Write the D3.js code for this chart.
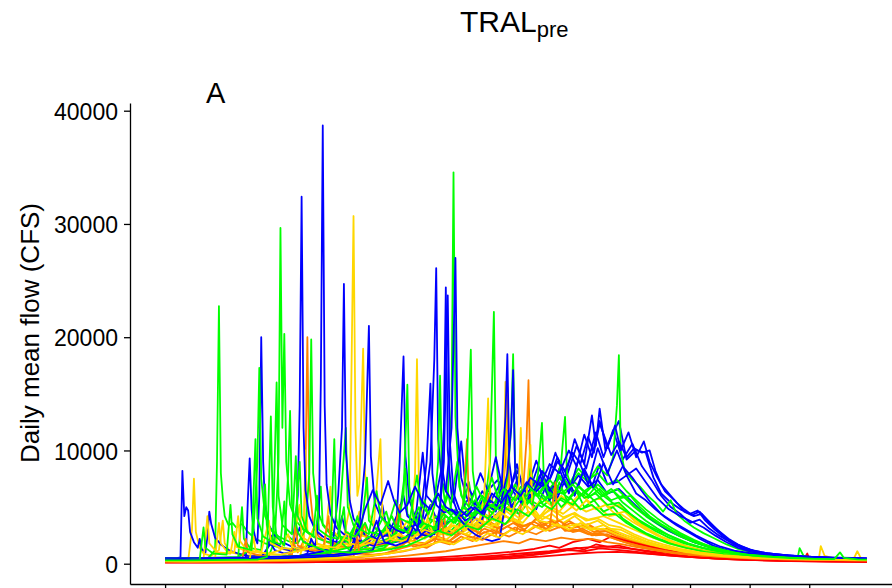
<!DOCTYPE html>
<html><head><meta charset="utf-8">
<script src="https://cdn.jsdelivr.net/npm/d3@7"></script>
<style>
body{margin:0;background:#fff}
svg{display:block}
text{font-family:"Liberation Sans",Arial,Helvetica,sans-serif;fill:#000}
</style>
</head><body>
<svg id="chart" width="892" height="588"></svg>
<script>
// ---- data (day of water year, daily mean flow in CFS) ----
const monthStartDays = [0,31,61,92,123,151,182,212,243,273,304,335];
const yTickValues = [0,10000,20000,30000,40000];
const titleMain = "TRAL";
const titleSub = "pre";
const panelLabel = "A";
const yLabel = "Daily mean flow (CFS)";

const flowB1 = [[0,350],[5,330],[8,600],[9,8200],[10,4200],[11,5000],[12,4700],[13,2800],[15,1900],[17,1400],[18,2200],[19,1300],[21,1000],[22,2400],[23,4600],[24,3500],[26,2300],[29,1700],[33,1200],[38,900],[43,700],[48,650],[52,700],[55,2500],[57,1800],[62,1300],[66,1100],[70,3200],[72,2000],[76,1500],[82,1200],[88,1100],[92,4200],[94,2600],[99,1900],[104,1500],[110,2800],[113,5200],[115,3300],[120,2400],[126,2000],[131,4800],[133,3400],[138,2600],[144,3800],[147,3000],[152,2500],[158,3500],[164,4800],[168,3900],[173,4400],[178,5600],[183,4600],[188,6200],[193,4800],[198,6800],[203,5400],[208,7400],[213,6000],[218,8200],[222,6800],[226,8800],[230,7000],[235,7200],[240,7800],[245,6200],[250,5600],[255,4800],[260,4100],[266,3400],[272,2800],[278,2200],[285,1600],[292,1200],[300,900],[310,700],[320,560],[335,460],[350,400],[365,380]];
const flowB2 = [[0,300],[10,320],[20,340],[30,360],[38,380],[42,450],[43,5500],[44,9300],[45,4800],[46,3000],[47,2200],[48,1800],[49,6000],[50,20000],[51,9000],[52,5200],[54,3400],[57,2500],[61,1900],[66,1500],[72,1200],[78,1000],[84,900],[90,900],[96,1100],[100,3000],[102,2000],[108,1600],[115,1800],[120,2600],[122,9000],[124,18300],[125,9500],[127,5600],[130,4200],[134,3600],[138,5200],[141,4000],[146,3500],[152,4200],[158,5800],[163,5000],[168,6500],[173,7400],[178,6000],[183,8200],[188,6400],[193,9100],[198,7000],[203,9800],[208,7600],[213,11000],[218,8800],[222,13100],[224,10400],[226,13700],[229,10000],[232,11200],[236,12600],[240,9200],[245,10000],[250,9800],[254,7600],[258,6200],[263,5400],[268,4800],[273,4400],[277,4700],[281,3800],[286,3000],[291,2300],[296,1700],[302,1300],[310,950],[320,800],[329,660],[340,560],[352,470],[365,400]];
const flowB3 = [[0,400],[10,380],[20,420],[30,460],[40,500],[50,560],[55,1800],[57,1200],[62,900],[66,1000],[69,6000],[70,14000],[71,32400],[72,12000],[73,6500],[75,4200],[78,3000],[82,2400],[87,2000],[92,1800],[97,2200],[101,3600],[104,2500],[110,2100],[116,2600],[121,4400],[125,3100],[130,2800],[134,4000],[138,9000],[140,18000],[141,26100],[142,11000],[144,7200],[146,6400],[149,12000],[151,27000],[152,12000],[154,7600],[157,5800],[161,5200],[165,6400],[169,5400],[174,7000],[179,5600],[184,7800],[189,6200],[194,8600],[199,7000],[204,9400],[209,7800],[214,10400],[219,8400],[224,11600],[228,9400],[233,11800],[238,9200],[243,10600],[248,8600],[253,7400],[258,6000],[263,5000],[268,4400],[273,3600],[278,3900],[283,3100],[288,2500],[294,1900],[300,1400],[308,1000],[316,800],[326,680],[338,570],[350,500],[365,430]];
const flowB4 = [[0,450],[10,430],[20,450],[30,500],[40,520],[50,560],[60,600],[66,620],[70,700],[74,900],[76,2200],[78,1500],[80,4200],[81,16000],[82,38700],[83,14000],[84,7000],[86,4400],[89,3200],[93,2600],[98,2200],[103,1900],[108,2400],[112,2000],[117,1800],[122,2000],[127,2600],[131,2200],[136,3000],[140,2600],[143,5000],[145,12000],[146,24400],[147,10000],[149,6000],[152,4600],[156,3800],[160,4200],[164,3600],[168,5200],[172,4600],[175,6800],[177,13000],[178,18500],[179,9000],[181,6400],[185,5400],[190,6600],[195,7800],[200,5600],[205,8400],[210,6200],[215,9200],[220,7000],[225,10200],[230,8000],[235,10000],[240,7800],[245,8400],[250,7200],[256,5800],[262,4800],[268,4200],[274,3700],[280,3200],[286,2500],[292,1900],[298,1400],[305,1050],[315,800],[328,650],[345,520],[365,450]];
const flowB5 = [[0,380],[10,360],[20,380],[30,420],[40,450],[50,500],[58,540],[64,600],[70,700],[76,900],[82,1100],[87,1500],[90,6000],[92,12000],[93,24700],[94,10000],[96,5600],[98,4000],[101,3200],[104,9000],[106,21000],[107,9500],[109,5400],[112,4200],[116,3500],[120,3000],[124,2700],[128,3400],[131,2800],[134,5800],[136,9000],[138,15900],[139,8000],[141,5200],[145,4500],[149,4800],[154,4200],[159,5000],[164,4400],[169,5600],[174,4900],[178,8000],[180,12000],[181,17100],[182,8500],[184,6000],[188,5600],[193,6400],[198,7200],[203,5800],[208,7800],[213,6200],[218,8400],[223,6600],[228,8900],[233,7000],[238,8600],[243,7600],[248,6400],[253,5300],[258,4400],[264,3700],[270,3100],[276,2500],[282,2000],[289,1500],[296,1150],[305,900],[315,720],[328,580],[345,470],[365,400]];
const flowB6 = [[0,350],[15,340],[30,380],[45,420],[60,480],[75,560],[90,700],[100,900],[108,1200],[112,2800],[114,1900],[120,1600],[126,2000],[130,3600],[133,2600],[138,2400],[142,3000],[145,9000],[147,23700],[148,11000],[150,6200],[153,4800],[157,4200],[161,5000],[165,4400],[170,6200],[175,5400],[180,6800],[185,6000],[190,7600],[195,6900],[200,8800],[205,8000],[210,10000],[214,8600],[218,11400],[222,9400],[226,12600],[230,10200],[234,12200],[237,10000],[241,11600],[245,9400],[249,10800],[252,9000],[256,7600],[260,6400],[265,5600],[270,4600],[275,4200],[279,4400],[283,3600],[288,2900],[293,2200],[298,1700],[304,1250],[312,950],[322,760],[335,610],[348,520],[358,460],[365,420]];
const flowB7 = [[0,500],[15,480],[30,520],[45,560],[60,620],[75,700],[88,800],[96,1000],[100,2400],[104,4800],[108,6500],[112,5200],[116,7300],[119,5600],[122,4500],[126,5200],[130,6800],[134,5400],[138,4800],[142,6200],[146,5000],[150,4600],[154,3800],[158,3000],[162,2500],[166,2200],[170,2000],[174,2200],[178,6400],[180,5000],[184,6000],[188,7200],[192,6400],[196,8200],[200,7400],[204,9000],[208,8200],[212,9800],[216,8800],[220,11200],[223,9800],[226,12400],[229,11000],[232,9600],[236,10800],[240,9400],[244,10200],[248,9800],[252,10000],[255,8200],[258,7000],[262,6200],[266,5400],[270,4800],[274,4300],[278,4600],[282,3900],[286,3200],[290,2500],[295,1900],[300,1500],[306,1150],[314,900],[324,740],[336,620],[350,540],[365,500]];
const flowB8 = [[0,450],[20,440],[40,480],[60,560],[80,700],[95,900],[105,1400],[110,3800],[112,2600],[118,2400],[124,6000],[126,4200],[130,3600],[134,9800],[136,6000],[140,5200],[144,8600],[146,6400],[150,5400],[154,10800],[156,7200],[160,6000],[164,8000],[168,6400],[172,9400],[175,7000],[179,6200],[183,8800],[186,6600],[190,6000],[195,7200],[200,6400],[205,7600],[210,6600],[215,7800],[220,6800],[225,7400],[230,6200],[236,6600],[242,5600],[248,4600],[254,3800],[260,3100],[267,2500],[275,1900],[284,1450],[294,1100],[306,820],[320,640],[336,540],[352,480],[365,450]];

const flowG1 = [[0,300],[8,320],[16,360],[22,420],[26,1200],[27,9000],[28,22750],[29,8000],[30,5800],[31,4200],[33,3400],[35,3600],[37,3200],[40,3500],[43,2800],[47,2200],[52,1800],[58,1500],[64,1300],[70,1200],[76,1800],[79,1400],[85,1200],[91,1500],[96,2600],[99,1900],[105,1600],[111,2200],[116,3400],[119,2500],[125,2100],[131,2800],[136,2400],[142,3200],[148,2800],[154,3800],[160,3200],[166,4400],[172,3800],[178,5000],[184,4400],[190,5600],[196,5000],[202,6000],[208,5400],[214,6400],[220,5800],[226,6600],[232,5600],[238,6000],[244,5000],[250,4200],[256,3500],[262,2900],[268,2400],[275,1900],[282,1500],[290,1100],[300,800],[312,600],[325,480],[340,400],[355,360],[365,340]];
const flowG2 = [[0,400],[10,380],[20,400],[30,430],[40,480],[48,520],[54,700],[57,2000],[59,9000],[60,29650],[61,12000],[62,20300],[63,9000],[65,5200],[68,3800],[72,3000],[77,2400],[83,2000],[89,1800],[95,2200],[100,3800],[103,2600],[108,2200],[114,3000],[118,2400],[124,2800],[130,4200],[134,3200],[139,3000],[144,4400],[147,6000],[149,14000],[150,34560],[151,13000],[153,6800],[156,5000],[160,4400],[165,5400],[170,4800],[175,6200],[180,5400],[185,6800],[190,6000],[195,7400],[200,6600],[205,7800],[210,7000],[215,8400],[220,7400],[225,8000],[230,7000],[235,7400],[240,6400],[245,5600],[250,4800],[256,4000],[262,3300],[268,2700],[275,2100],[282,1600],[290,1200],[300,900],[312,680],[326,540],[342,450],[365,400]];
const flowG3 = [[0,500],[10,480],[20,520],[30,560],[38,600],[44,1200],[46,3000],[48,9000],[49,17300],[50,7500],[52,4200],[55,3000],[59,2400],[64,2000],[69,1800],[73,3000],[75,8000],[76,19800],[77,8000],[79,4800],[82,3500],[86,2800],[91,2400],[96,2200],[101,2600],[106,2300],[111,3000],[116,2600],[121,3400],[126,2900],[131,3800],[136,3200],[141,4200],[146,3600],[151,4800],[156,4000],[161,5600],[166,4800],[169,9000],[171,22240],[172,9500],[174,6200],[178,5400],[183,6000],[188,5200],[193,6600],[198,5800],[203,7000],[208,6200],[213,7200],[218,6400],[223,7000],[228,6000],[233,6400],[238,5400],[244,4600],[250,3800],[256,3100],[262,2500],[268,2000],[275,1600],[283,1250],[292,950],[302,720],[315,560],[330,460],[348,400],[365,370]];
const flowG4 = [[0,250],[12,260],[24,280],[36,300],[48,340],[60,400],[70,480],[80,600],[90,800],[98,1000],[104,1600],[108,1200],[114,1400],[120,2600],[124,6000],[126,15800],[127,6800],[129,4200],[132,3300],[136,3000],[140,5000],[142,9000],[143,16600],[144,7500],[146,4800],[150,4000],[155,4600],[160,4000],[165,5200],[170,4500],[175,5800],[180,5000],[185,6400],[190,5600],[195,7000],[200,6200],[205,7600],[210,6800],[215,8000],[220,7200],[225,8600],[230,7800],[233,9400],[235,14000],[236,18420],[237,10000],[239,8200],[243,7400],[247,6800],[251,6000],[255,5400],[259,4600],[263,5600],[266,4400],[270,3800],[275,3200],[280,2700],[286,2200],[292,1700],[298,1300],[306,950],[316,720],[328,560],[340,470],[352,410],[365,380]];
const flowG5 = [[0,450],[12,430],[24,460],[36,500],[48,560],[60,640],[70,720],[80,900],[90,1200],[100,1600],[106,2400],[110,1900],[116,2200],[122,3000],[128,2600],[134,3600],[140,3000],[146,4200],[151,3600],[155,5000],[157,9000],[159,18900],[160,8200],[162,5400],[165,4600],[170,5200],[175,4600],[178,7500],[180,12000],[181,18500],[182,8600],[184,6000],[188,5400],[193,6200],[198,5600],[203,6800],[206,9000],[208,12970],[209,8000],[212,6400],[217,6000],[222,6800],[227,6000],[232,6600],[237,5800],[242,6000],[247,5000],[252,4200],[258,3500],[264,2900],[270,2400],[277,1900],[284,1500],[292,1150],[302,880],[314,660],[328,520],[345,440],[365,390]];
const flowG6 = [[0,350],[12,340],[24,360],[36,380],[48,420],[60,480],[72,560],[84,700],[86,900],[88,11000],[89,4000],[92,1800],[96,1200],[106,1300],[114,1600],[122,2100],[130,2700],[137,3400],[143,2900],[150,4000],[156,3500],[162,4600],[168,4000],[174,5200],[180,4600],[186,6000],[191,5200],[194,8000],[196,12440],[197,7400],[200,5800],[205,6400],[210,5800],[215,6800],[220,6000],[225,7000],[230,6200],[235,6600],[240,5800],[245,5000],[250,4300],[256,3600],[262,3000],[268,2400],[275,1900],[282,1500],[290,1150],[300,850],[312,640],[325,500],[329,540],[330,1370],[332,700],[338,450],[350,390],[365,360]];
const flowG7 = [[0,300],[12,290],[24,310],[36,330],[48,360],[53,600],[55,13000],[56,5000],[58,2400],[62,1600],[64,8000],[65,13500],[66,5200],[69,2800],[72,1900],[84,1100],[96,1000],[108,1100],[118,1300],[126,1600],[134,2200],[142,2900],[149,2500],[156,3400],[163,3000],[170,4000],[177,3500],[183,4800],[189,4200],[195,5400],[201,4800],[206,5800],[212,5200],[218,6400],[223,5600],[228,6000],[234,5200],[240,4600],[246,3900],[252,3300],[258,2800],[265,2300],[272,1800],[280,1400],[290,1050],[300,800],[312,620],[325,500],[338,430],[348,400],[351,1000],[353,520],[360,380],[365,360]];
const flowG8 = [[0,400],[15,420],[30,450],[38,500],[40,5000],[41,2200],[44,1400],[50,1200],[52,7000],[53,3000],[56,2000],[60,1700],[62,5500],[63,2600],[67,2000],[70,9000],[71,4200],[74,2800],[78,2300],[81,6800],[82,3400],[86,2600],[90,2400],[94,12000],[95,5000],[98,3400],[102,2900],[105,7600],[106,3800],[110,3000],[115,4600],[117,3400],[121,3000],[125,8400],[126,4400],[130,3500],[135,5600],[137,4000],[142,3600],[147,6400],[149,4600],[153,4000],[158,7200],[160,5200],[164,4600],[168,6800],[171,5000],[175,7400],[178,5800],[182,6600],[186,5200],[190,8400],[193,6000],[197,6800],[201,5200],[205,7200],[209,5600],[214,6400],[218,5000],[223,5600],[228,4600],[233,5000],[238,4000],[244,3300],[250,2700],[257,2200],[264,1800],[272,1400],[281,1100],[292,850],[305,650],[320,520],[340,440],[365,400]];
const flowG9 = [[0,350],[10,340],[18,380],[20,3200],[21,1400],[25,900],[32,800],[34,5200],[35,2600],[38,1500],[45,1200],[47,11000],[48,4000],[51,2400],[56,1900],[58,16000],[59,6000],[61,3400],[66,2600],[68,9500],[69,4200],[72,3000],[77,2500],[79,6000],[80,3000],[85,2400],[90,2200],[93,5000],[94,2800],[99,2400],[104,3600],[106,2800],[112,2600],[118,4200],[120,3200],[126,2800],[132,5000],[134,3600],[140,3200],[145,4400],[150,3600],[155,5000],[160,4200],[165,6000],[170,5000],[176,6600],[182,5600],[188,7000],[194,6000],[200,7400],[206,6200],[212,7000],[218,5800],[224,6200],[230,5200],[236,5400],[242,4400],[248,3600],[255,2900],[262,2300],[270,1800],[279,1400],[290,1050],[302,800],[316,620],[332,500],[350,430],[365,390]];
const flowG10 = [[0,380],[20,370],[40,420],[60,520],[75,700],[85,1000],[92,2200],[96,1800],[100,4200],[102,3000],[106,2600],[110,6400],[112,4200],[116,3400],[120,5600],[122,4000],[127,3600],[131,7800],[133,5200],[137,4400],[141,6200],[144,5000],[148,4400],[152,9000],[154,6000],[158,5000],[162,6800],[166,5400],[170,7600],[173,5800],[177,5200],[182,7000],[186,5600],[191,6600],[196,5400],[201,6200],[206,5000],[211,5800],[216,4800],[222,5200],[228,4300],[234,4400],[240,3600],[247,2900],[254,2300],[262,1800],[271,1400],[281,1050],[293,800],[307,620],[322,500],[340,430],[365,390]];

const flowY1 = [[0,200],[8,220],[12,300],[14,3000],[15,7500],[16,2800],[18,1400],[20,900],[24,700],[28,1200],[30,3800],[31,1800],[34,1000],[40,800],[46,700],[52,900],[57,2800],[59,1400],[65,1100],[72,1500],[78,1200],[85,1600],[92,1400],[100,1800],[108,1600],[116,2200],[124,2000],[132,2600],[140,2300],[148,3000],[156,2600],[164,3400],[172,3000],[180,3800],[188,3300],[196,4200],[204,3700],[212,4400],[220,3900],[228,4200],[236,3600],[244,3000],[252,2400],[260,1900],[268,1500],[278,1100],[290,800],[305,600],[320,470],[335,400],[340,420],[341,1550],[343,700],[350,380],[365,350]];
const flowY2 = [[0,300],[12,290],[24,320],[36,350],[48,400],[60,460],[70,600],[72,1800],[73,10000],[74,3000],[78,1400],[84,1600],[87,1200],[92,1400],[96,5000],[98,30700],[99,12000],[100,6000],[101,7000],[103,19000],[104,8000],[106,4400],[109,3200],[113,2600],[118,2200],[124,2000],[130,2600],[135,2200],[141,3000],[147,2500],[153,3400],[159,2900],[165,3800],[171,3200],[177,4200],[183,3600],[189,4600],[195,4000],[201,5000],[207,4400],[213,5200],[219,4600],[225,5000],[231,4200],[237,4400],[243,3700],[249,3100],[256,2500],[263,2000],[270,1600],[278,1250],[288,950],[300,720],[314,560],[330,460],[348,400],[365,370]];
const flowY3 = [[0,250],[12,240],[24,260],[36,280],[48,320],[60,380],[72,460],[84,600],[96,800],[106,1000],[114,1300],[120,2400],[123,1600],[128,2200],[130,8000],[131,18060],[132,7000],[134,4000],[137,3000],[141,2600],[146,3200],[151,2700],[156,3800],[161,3200],[166,4400],[171,3800],[176,4800],[181,4200],[186,5400],[191,4700],[196,5800],[201,5100],[206,6000],[211,5300],[216,6200],[221,5400],[226,5800],[231,5000],[236,5200],[241,4400],[246,3700],[252,3000],[258,2400],[265,1900],[272,1500],[280,1150],[290,880],[302,680],[316,540],[332,450],[350,390],[358,380],[360,1100],[362,450],[365,360]];
const flowY4 = [[0,350],[12,330],[24,360],[36,400],[48,460],[60,540],[72,640],[84,800],[96,1000],[106,1400],[112,1100],[120,1600],[128,2000],[134,1700],[140,2400],[146,2100],[152,2900],[158,2500],[163,3400],[166,6000],[168,14600],[169,6500],[171,4200],[174,3600],[176,6000],[177,16060],[178,7000],[180,4600],[184,4000],[189,4600],[194,4000],[199,5000],[204,4400],[209,5400],[214,4700],[219,5600],[224,4800],[229,5200],[234,4400],[239,4600],[244,3800],[250,3100],[256,2500],[262,2000],[270,1550],[278,1200],[288,900],[300,680],[314,530],[330,440],[348,380],[365,350]];
const flowY5 = [[0,280],[10,270],[20,300],[26,500],[28,3600],[29,1800],[32,1100],[36,1000],[38,4200],[39,2000],[42,1300],[48,1000],[54,900],[60,1200],[64,2600],[66,1500],[72,1200],[79,1500],[86,1300],[93,1800],[100,1500],[107,2200],[114,1900],[121,2600],[128,2200],[135,3000],[142,2600],[149,3400],[156,2900],[163,3800],[170,3300],[177,4200],[184,3600],[188,6000],[190,10500],[191,5000],[194,3800],[200,3600],[207,3200],[214,3500],[221,3000],[228,3100],[235,2600],[242,2200],[250,1800],[258,1450],[267,1150],[277,900],[290,700],[305,540],[322,440],[340,380],[365,340]];
const flowY6 = [[0,220],[12,210],[24,230],[36,250],[48,280],[60,320],[72,380],[84,460],[96,560],[106,700],[116,900],[126,1200],[136,1600],[144,2000],[150,1700],[156,2300],[162,2000],[168,2700],[174,2300],[180,3000],[186,2600],[192,3300],[198,2900],[204,3500],[210,3000],[216,3600],[222,3100],[228,3400],[234,2900],[240,2500],[247,2100],[254,1700],[262,1350],[270,1050],[280,800],[292,620],[306,500],[322,420],[340,360],[365,320]];
const flowY7 = [[0,300],[10,320],[20,400],[22,4200],[23,1800],[27,1000],[34,900],[36,2800],[37,1500],[42,1100],[50,1000],[54,3800],[55,1800],[60,1400],[66,1300],[70,5200],[71,2400],[76,1800],[83,1600],[86,6800],[87,3000],[91,2200],[97,2000],[101,4600],[102,2500],[108,2200],[112,11000],[113,4200],[116,2800],[121,2500],[126,3800],[128,2800],[134,2600],[139,5400],[140,3200],[146,2900],[152,4200],[154,3200],[160,3000],[166,4600],[168,3600],[173,3300],[179,5200],[181,4000],[186,3600],[192,4800],[196,3900],[201,4400],[207,3600],[213,4200],[219,3400],[225,3800],[231,3100],[237,3000],[243,2500],[250,2000],[258,1600],[267,1250],[277,950],[290,720],[305,560],[322,450],[342,390],[365,350]];
const flowY8 = [[0,260],[12,250],[24,280],[36,320],[44,380],[46,2400],[47,1200],[52,900],[60,800],[66,1000],[72,1200],[78,3400],[79,1800],[84,1500],[90,1400],[95,2800],[96,1800],[102,1600],[110,2000],[116,3000],[117,2200],[123,2000],[130,2400],[137,3800],[139,2800],[144,2600],[150,3400],[156,3000],[162,4000],[168,3500],[174,4600],[180,3900],[184,7000],[185,12000],[186,6000],[189,4500],[195,4200],[201,4800],[207,4100],[213,4500],[219,3800],[225,4000],[231,3400],[237,3200],[244,2600],[251,2100],[259,1700],[268,1300],[278,1000],[290,760],[305,580],[322,460],[342,390],[365,350]];

const flowO1 = [[0,260],[12,250],[24,270],[36,300],[48,340],[58,400],[64,600],[67,1800],[69,1000],[72,2000],[73,8000],[74,20000],[75,7000],[77,3600],[80,2400],[84,1900],[89,1600],[95,1800],[101,1500],[108,2200],[114,1800],[120,2600],[126,2200],[132,3000],[138,2500],[144,3400],[150,2800],[156,3600],[162,3000],[168,3800],[174,3200],[180,3900],[186,3300],[192,3700],[198,3100],[204,3400],[210,2900],[216,3000],[222,2500],[228,2600],[234,2200],[241,1800],[248,1450],[256,1150],[265,900],[276,700],[290,540],[306,430],[322,360],[340,310],[365,280]];
const flowO2 = [[0,220],[12,210],[24,230],[36,250],[48,280],[60,320],[72,380],[84,460],[96,560],[106,700],[114,900],[122,1300],[130,1700],[136,1400],[142,2000],[148,1700],[154,2400],[160,2000],[166,2800],[172,2400],[175,5000],[177,9000],[178,15600],[179,6000],[181,3800],[185,3200],[190,3600],[195,3100],[200,3700],[205,3200],[210,3800],[215,3300],[220,3500],[225,3000],[230,3100],[236,2600],[242,2200],[249,1800],[256,1450],[264,1150],[274,880],[286,680],[300,540],[316,440],[334,370],[352,330],[365,310]];
const flowO3 = [[0,300],[12,280],[24,300],[36,320],[48,360],[60,420],[72,500],[84,620],[96,780],[106,1000],[116,1300],[124,1700],[128,3200],[130,1900],[136,1800],[142,2400],[148,2000],[154,2700],[160,2300],[166,3100],[172,2700],[178,3300],[183,2900],[186,6000],[188,11000],[189,16200],[190,7000],[192,4200],[196,3400],[201,3800],[206,3200],[211,3600],[216,3100],[221,3300],[226,2800],[231,2900],[237,2400],[243,2000],[250,1650],[258,1300],[267,1000],[278,780],[292,600],[308,480],[326,400],[345,340],[365,300]];
const flowO4 = [[0,200],[15,190],[30,210],[45,240],[60,280],[72,340],[84,420],[96,520],[106,650],[114,850],[120,1200],[126,2000],[129,1500],[135,1700],[141,2200],[147,1900],[152,2600],[155,5000],[157,11000],[158,5200],[160,3000],[164,2600],[170,3000],[176,2600],[182,3200],[188,2800],[194,3400],[200,2900],[206,3300],[212,2800],[218,3000],[224,2500],[230,2600],[236,2200],[243,1800],[250,1500],[258,1200],[268,940],[280,730],[294,580],[310,470],[328,390],[346,340],[365,300]];
const flowO5 = [[0,180],[15,170],[30,180],[45,200],[60,230],[75,270],[90,330],[104,420],[116,560],[126,720],[136,900],[146,1100],[156,1400],[166,1700],[176,2000],[184,1800],[190,2200],[198,2000],[206,2300],[214,2100],[222,2200],[230,1900],[238,1700],[246,1450],[255,1200],[265,950],[276,760],[290,600],[305,480],[322,390],[340,330],[365,280]];
const flowO6 = [[0,250],[15,240],[30,270],[40,300],[42,2200],[43,1000],[50,700],[60,600],[66,800],[68,3400],[69,1600],[75,1200],[82,1100],[85,4200],[86,2000],[92,1500],[100,1400],[104,3600],[105,1900],[111,1600],[118,1800],[122,5200],[123,2400],[129,2000],[135,2600],[141,2200],[145,4800],[146,2800],[152,2500],[158,3200],[164,2700],[168,6200],[169,3400],[175,3000],[181,3600],[187,3000],[193,4000],[199,3300],[205,3800],[211,3100],[217,3400],[223,2800],[229,2900],[235,2400],[242,2000],[249,1650],[257,1300],[266,1020],[277,800],[290,620],[305,490],[322,400],[342,340],[365,300]];
const flowO7 = [[0,200],[15,190],[30,200],[45,220],[60,260],[75,320],[88,420],[98,600],[100,2400],[101,900],[108,800],[116,900],[124,1100],[132,1400],[140,1800],[144,3800],[145,2000],[151,1900],[158,2400],[165,2100],[172,2800],[179,2400],[186,3000],[193,2600],[200,3200],[203,7200],[204,3600],[208,2900],[214,3000],[220,2600],[226,2700],[232,2300],[239,1900],[246,1600],[254,1300],[263,1050],[273,820],[285,640],[300,500],[318,400],[338,340],[365,290]];

const flowR1 = [[0,150],[20,140],[40,150],[60,170],[80,200],[100,240],[120,300],[140,400],[155,520],[170,700],[185,900],[200,1100],[210,1300],[220,1450],[230,1500],[240,1350],[250,1150],[260,950],[272,750],[285,560],[300,420],[320,320],[340,260],[365,220]];
const flowR2 = [[0,120],[20,110],[40,120],[60,130],[80,150],[100,180],[120,220],[140,280],[160,380],[175,520],[188,700],[198,900],[206,1100],[214,1400],[218,1250],[224,1700],[230,1500],[236,1600],[242,1350],[250,1100],[260,850],[272,620],[286,450],[302,330],[320,250],[340,200],[365,170]];
const flowR3 = [[0,100],[20,100],[40,110],[60,120],[80,140],[100,170],[120,210],[140,270],[160,350],[180,470],[195,620],[205,760],[215,900],[225,1000],[235,1050],[245,950],[255,820],[266,680],[278,540],[292,410],[308,310],[325,240],[345,190],[365,160]];
const flowR4 = [[0,200],[20,190],[40,200],[60,220],[80,260],[100,320],[120,400],[135,500],[150,640],[165,820],[180,1050],[192,1300],[200,1600],[205,1400],[212,1900],[220,2200],[226,1900],[232,2400],[238,2100],[245,1800],[252,1500],[260,1200],[270,900],[282,680],[296,500],[312,380],[326,300],[332,320],[334,900],[335,400],[345,250],[365,210]];
const flowR5 = [[0,160],[25,150],[50,160],[75,190],[100,230],[120,280],[140,360],[160,480],[178,650],[192,860],[202,1050],[210,1200],[218,1100],[226,1350],[234,1250],[242,1100],[252,900],[263,720],[276,560],[290,430],[308,320],[328,250],[348,200],[365,180]];

const typeColors = {blue:"#0000ff", green:"#00ff00", yellow:"#ffd700", orange:"#ff8000", red:"#ff0000"};
// plotting order (year order), each with its flow-type class
const yearOrder = [
  ["red",flowR1],["yellow",flowY1],["green",flowG1],["blue",flowB1],["orange",flowO1],
  ["yellow",flowY2],["green",flowG2],["red",flowR2],["blue",flowB2],["orange",flowO2],
  ["green",flowG3],["yellow",flowY3],["blue",flowB3],["red",flowR3],["orange",flowO3],
  ["green",flowG8],["yellow",flowY7],["blue",flowB8],["orange",flowO6],["red",flowR5],
  ["green",flowG4],["yellow",flowY4],["blue",flowB4],["orange",flowO4],["green",flowG5],
  ["blue",flowB5],["yellow",flowY5],["red",flowR4],["green",flowG6],["orange",flowO5],
  ["green",flowG10],["blue",flowB7],["yellow",flowY8],["green",flowG9],["orange",flowO7],
  ["blue",flowB6],["yellow",flowY6],["green",flowG7]
];

// ---- drawing ----
const svg = d3.select("#chart");
const x = d3.scaleLinear().domain([-18.25, 383.25]).range([130, 902]);
const y = d3.scaleLinear().domain([-1792, 40680]).range([584, 103]);

const line = d3.line().x(d => x(d[0])).y(d => y(d[1]));

svg.append("g").selectAll("path").data(yearOrder).join("path")
  .attr("d", d => line(d[1]))
  .attr("fill", "none")
  .attr("stroke", d => typeColors[d[0]])
  .attr("stroke-width", 1.8)
  .attr("stroke-linejoin", "round");

// y axis
const yAxis = svg.append("g").attr("transform", "translate(130,0)")
  .call(d3.axisLeft(y).tickValues(yTickValues).tickFormat(d3.format("d")).tickSizeInner(6).tickSizeOuter(0).tickPadding(6));
yAxis.select(".domain").attr("stroke", "#000").attr("stroke-width", 1.3);
yAxis.selectAll(".tick line").attr("stroke", "#000").attr("stroke-width", 1.3);
yAxis.selectAll(".tick text").attr("font-size", 23).attr("font-family", "Liberation Sans, Arial, sans-serif").attr("fill", "#000").attr("dy", "0.38em");

// x axis (month labels fall below the visible area)
const xAxis = svg.append("g").attr("transform", "translate(0,584)")
  .call(d3.axisBottom(x).tickValues(monthStartDays).tickFormat("").tickSizeInner(7).tickSizeOuter(0));
xAxis.select(".domain").attr("stroke", "#000").attr("stroke-width", 1.3);
xAxis.selectAll(".tick line").attr("stroke", "#000").attr("stroke-width", 1.3);

// y label
svg.append("text")
  .attr("transform", "translate(39,333) rotate(-90)")
  .attr("text-anchor", "middle")
  .attr("font-size", 26)
  .text(yLabel);

// panel label
svg.append("text").attr("x", 206).attr("y", 103).attr("font-size", 29).text(panelLabel);

// title
const t = svg.append("text").attr("x", 460).attr("y", 32).attr("font-size", 30);
t.append("tspan").text(titleMain);
t.append("tspan").attr("font-size", 22).attr("dy", 5).text(titleSub);
</script>
</body></html>
